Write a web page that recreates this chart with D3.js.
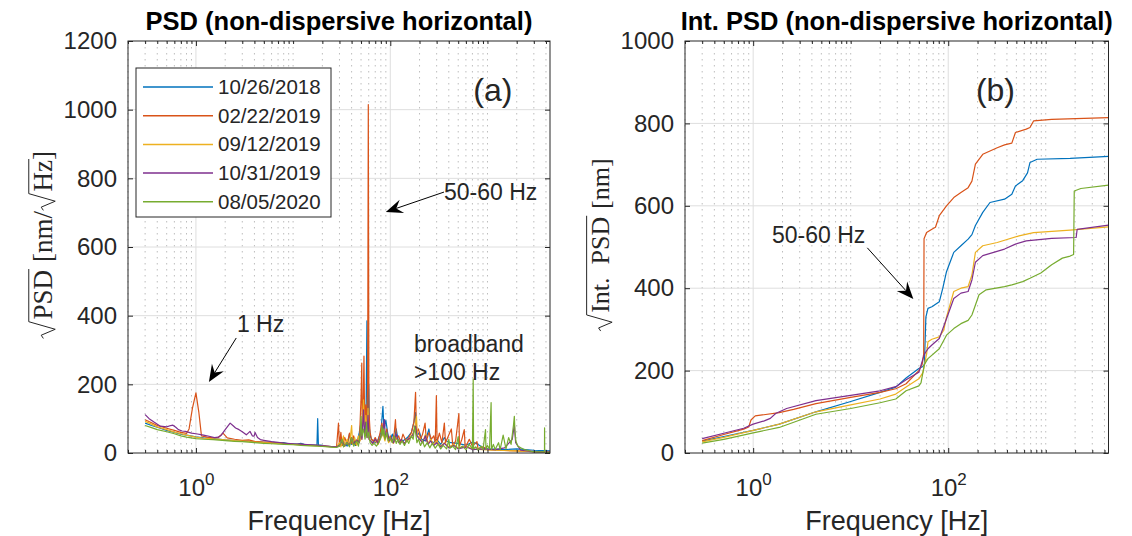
<!DOCTYPE html>
<html lang="en">

<head>
  <meta charset="UTF-8">
  <title>PSD</title>
  <style>
    * {
      padding: 0;
      margin: 0;
    }

    html,
    body {
      width: 1132px;
      height: 536px;
      overflow: hidden;
      background: #fff;
    }

    text {
      font-family: "Liberation Sans", Arial, Helvetica, sans-serif;
      fill: #262626;
    }

    .tick text {
      font-size: 24px;
    }

    .serif {
      font-family: "Liberation Serif", "Times New Roman", serif;
      white-space: pre;
    }
  </style>
</head>

<body>
  <script src="https://cdn.jsdelivr.net/npm/d3@7/dist/d3.min.js"></script>
  <script>
    // legend entries and MATLAB default colour order
    const dates = ['10/26/2018', '02/22/2019', '09/12/2019', '10/31/2019', '08/05/2020']
    const colors = ['#0072BD', '#D95319', '#EDB120', '#7E2F8E', '#77AC30']

    const freqDomain = [0.2, 4400]
    const decadeTicks = [1, 100]
    const psdTicks = [0, 200, 400, 600, 800, 1000, 1200]
    const intTicks = [0, 200, 400, 600, 800, 1000]

    // sqrt(PSD) [nm/sqrt(Hz)] as [Hz, value]
    const psd_20181026 = [[0.3, 87], [0.35, 80], [0.43, 72], [0.5, 66], [0.6, 60], [0.7, 55], [0.8, 52], [1, 47], [1.2, 44], [1.5, 42], [2, 38], [2.5, 36], [3, 35], [4, 33], [5, 31], [6, 32], [7, 29], [8, 30], [9, 27], [10, 27], [11, 26], [12, 28], [13, 25], [15, 24], [17, 23], [17.6, 24], [17.9, 100], [18.2, 24], [20, 22], [22, 20], [25, 18], [28, 17], [30, 25], [31, 45], [32, 22], [34, 30], [36, 20], [38, 55], [40, 25], [42, 40], [44, 22], [46, 35], [48, 60], [50, 90], [51, 45], [53, 110], [55, 60], [56.5, 150], [57.5, 385], [58.5, 80], [60, 200], [61, 70], [63, 45], [66, 35], [70, 30], [75, 40], [80, 60], [84, 136], [86, 70], [90, 95], [95, 50], [100, 40], [105, 55], [110, 35], [115, 70], [120, 40], [125, 30], [135, 35], [150, 45], [165, 60], [175, 90], [182, 118], [188, 50], [200, 60], [210, 40], [230, 35], [250, 70], [260, 35], [280, 30], [300, 40], [330, 25], [360, 45], [380, 35], [420, 30], [500, 28], [600, 22], [700, 32], [800, 25], [900, 15], [1000, 12], [1500, 10], [2000, 12], [3000, 8], [4400, 6]]
    const psd_20190222 = [[0.3, 97], [0.35, 88], [0.4, 80], [0.5, 72], [0.6, 66], [0.7, 60], [0.8, 57], [0.85, 70], [0.92, 130], [1.0, 175], [1.07, 120], [1.14, 50], [1.3, 46], [1.5, 44], [1.7, 45], [1.9, 58], [2.1, 44], [2.5, 40], [3, 37], [3.5, 38], [4, 34], [5, 32], [6, 30], [8, 28], [10, 26], [12, 25], [15, 23], [18, 22], [20, 21], [25, 19], [28, 18], [29.3, 87], [30, 20], [31, 60], [32, 22], [34, 45], [36, 25], [38, 58], [40, 28], [42, 50], [44, 25], [46, 40], [48, 30], [50, 160], [50.9, 262], [51.5, 60], [52.5, 120], [53.6, 282], [54.5, 80], [56, 140], [57, 70], [58.5, 200], [59.4, 1015], [60.3, 120], [62, 60], [64, 40], [67, 35], [70, 45], [74, 30], [78, 55], [82, 87], [85, 60], [88, 40], [92, 70], [96, 35], [100, 50], [105, 30], [110, 60], [113, 97], [116, 40], [122, 50], [128, 30], [135, 55], [145, 35], [155, 45], [165, 60], [175, 90], [182, 177], [186, 60], [195, 70], [205, 40], [215, 55], [228, 87], [235, 35], [250, 60], [265, 40], [280, 50], [290, 30], [298, 167], [303, 30], [320, 58], [340, 30], [360, 87], [370, 30], [390, 45], [425, 70], [440, 20], [470, 35], [508, 115], [515, 20], [545, 40], [577, 68], [590, 15], [650, 40], [700, 20], [780, 33], [800, 12], [900, 18], [1000, 10], [1300, 8], [2000, 6], [3000, 4], [4400, 3]]
    const psd_20190912 = [[0.3, 92], [0.35, 84], [0.4, 76], [0.5, 68], [0.6, 61], [0.7, 56], [0.8, 52], [1, 46], [1.2, 43], [1.5, 41], [2, 38], [2.5, 36], [3, 35], [4, 32], [5, 30], [6, 29], [8, 27], [10, 25], [12, 24], [15, 22], [18, 21], [20, 20], [25, 18], [28, 17], [30, 30], [31, 18], [33, 50], [34, 20], [36, 40], [38, 22], [40, 80], [41, 25], [43, 45], [45, 22], [47, 50], [49, 35], [50, 90], [51, 40], [53, 155], [54.5, 60], [56, 110], [57.5, 50], [59, 130], [60.5, 40], [63, 35], [66, 28], [70, 35], [75, 25], [80, 45], [84, 60], [88, 35], [92, 55], [96, 30], [102, 40], [108, 28], [115, 50], [122, 30], [130, 40], [140, 28], [150, 35], [162, 45], [172, 60], [180, 80], [186, 107], [190, 50], [200, 45], [215, 30], [230, 55], [245, 28], [260, 40], [280, 25], [300, 35], [330, 20], [360, 30], [400, 18], [450, 25], [500, 15], [600, 20], [700, 12], [900, 10], [1200, 8], [2000, 6], [3000, 4], [4400, 3]]
    const psd_20191031 = [[0.3, 112], [0.33, 100], [0.37, 90], [0.43, 78], [0.5, 76], [0.55, 80], [0.58, 81], [0.62, 75], [0.66, 68], [0.72, 64], [0.78, 63], [0.9, 58], [1, 56], [1.2, 52], [1.4, 48], [1.55, 45], [1.7, 46], [1.82, 52], [2, 68], [2.15, 80], [2.25, 87], [2.4, 80], [2.56, 73], [2.78, 68], [3, 62], [3.3, 53], [3.45, 58], [3.6, 63], [3.8, 50], [3.97, 49], [4.06, 60], [4.3, 45], [4.6, 39], [5, 37], [6, 33], [7, 31], [8, 29], [10, 27], [12, 26], [15, 24], [18, 22], [20, 21], [25, 19], [28, 18], [30, 22], [32, 35], [34, 20], [36, 30], [38, 22], [40, 45], [42, 25], [45, 38], [48, 30], [50, 80], [51, 40], [53, 126], [54.5, 50], [56, 90], [57.5, 45], [59, 110], [60.5, 40], [63, 35], [66, 28], [70, 40], [75, 28], [80, 50], [84, 70], [87, 97], [89, 45], [93, 60], [97, 35], [102, 45], [108, 30], [115, 55], [122, 30], [130, 40], [140, 28], [150, 38], [162, 45], [172, 55], [182, 78], [188, 50], [200, 40], [215, 30], [230, 50], [245, 25], [260, 35], [280, 22], [300, 30], [330, 18], [360, 28], [400, 15], [450, 22], [500, 12], [600, 18], [700, 10], [900, 12], [1200, 10], [1500, 15], [1800, 40], [1890, 82], [1950, 30], [2200, 8], [3000, 4], [4400, 3]]
    const psd_20200805 = [[0.3, 80], [0.35, 74], [0.4, 68], [0.5, 62], [0.6, 56], [0.7, 50], [0.8, 46], [1, 42], [1.2, 40], [1.5, 39], [2, 36], [2.5, 34], [3, 33], [4, 30], [5, 28], [6, 27], [8, 25], [10, 24], [12, 22], [15, 21], [18, 20], [20, 19], [25, 17], [28, 16], [30, 20], [32, 40], [33, 18], [36, 30], [38, 18], [40, 45], [42, 20], [45, 35], [47, 20], [49, 55], [50, 107], [51, 50], [53, 70], [55, 40], [57, 90], [58, 45], [60, 60], [62, 30], [65, 22], [68, 28], [72, 20], [76, 30], [80, 45], [82, 78], [84, 50], [86, 70], [88, 40], [92, 60], [95, 35], [100, 45], [105, 30], [110, 50], [115, 28], [120, 40], [126, 25], [132, 35], [140, 22], [148, 38], [155, 28], [165, 50], [172, 40], [178, 78], [183, 55], [188, 30], [195, 40], [205, 22], [215, 35], [225, 18], [240, 30], [255, 15], [270, 28], [290, 14], [310, 26], [330, 12], [350, 22], [380, 12], [400, 40], [410, 14], [440, 20], [470, 10], [500, 48], [510, 12], [550, 20], [600, 10], [650, 25], [700, 12], [713, 215], [720, 12], [760, 18], [800, 8], [860, 20], [900, 10], [955, 68], [965, 10], [1000, 22], [1050, 12], [1090, 147], [1100, 10], [1150, 25], [1200, 10], [1300, 30], [1350, 10], [1450, 52], [1550, 12], [1650, 45], [1750, 25], [1850, 80], [1890, 107], [1920, 60], [1960, 35], [2050, 20], [2200, 15], [2400, 10], [2600, 8], [2800, 5], [3000, 4], [3300, 3], [3600, 3], [3860, 3], [3870, 73], [3880, 3], [4100, 2], [4400, 2]]

    // sqrt(integrated PSD) [nm]
    const int_20181026 = [[0.3, 29], [0.5, 40], [1, 55], [1.85, 70], [4.4, 100], [10, 125], [20, 147], [29, 160], [37, 182], [50, 205], [55, 210], [57, 215], [59, 330], [62, 351], [68, 355], [81, 367], [88, 400], [96, 440], [114, 487], [135, 503], [160, 519], [175, 530], [190, 552], [226, 584], [268, 608], [378, 616], [449, 628], [489, 648], [580, 661], [650, 680], [689, 705], [817, 713], [1780, 715], [4400, 720]]
    const int_20190222 = [[0.3, 30], [0.5, 45], [0.8, 58], [0.9, 63], [0.95, 80], [1.05, 90], [1.85, 98], [2.6, 106], [4.4, 120], [10, 135], [20, 147], [29, 156], [37, 168], [50, 200], [54, 215], [56, 240], [56.5, 520], [60, 535], [68, 543], [74, 548], [81, 576], [96, 600], [114, 620], [135, 632], [160, 644], [175, 660], [190, 701], [226, 725], [318, 741], [378, 748], [449, 752], [489, 778], [631, 786], [689, 790], [750, 806], [1150, 810], [4400, 814]]
    const int_20190912 = [[0.3, 27], [0.5, 38], [1, 55], [1.85, 70], [4.4, 100], [10, 117], [20, 131], [29, 143], [37, 160], [50, 180], [55, 195], [60, 240], [62, 270], [68, 276], [81, 282], [90, 298], [96, 330], [114, 392], [135, 400], [160, 404], [175, 432], [190, 487], [226, 503], [318, 511], [532, 527], [750, 535], [1780, 541], [4400, 549]]
    const int_20191031 = [[0.3, 35], [0.5, 48], [0.8, 60], [1, 70], [1.3, 78], [1.5, 84], [1.7, 96], [2.2, 108], [4.4, 127], [10, 140], [20, 151], [29, 161], [37, 178], [50, 196], [57, 240], [62, 253], [68, 262], [81, 278], [96, 326], [114, 375], [135, 388], [160, 392], [175, 420], [190, 463], [226, 479], [378, 495], [489, 507], [631, 515], [1150, 521], [2050, 523], [2100, 543], [4400, 553]]
    const int_20200805 = [[0.3, 24], [0.5, 33], [1, 49], [1.85, 62], [4.4, 94], [10, 108], [20, 122], [29, 131], [37, 151], [50, 163], [52.6, 170], [57, 215], [62, 229], [81, 253], [96, 286], [114, 302], [135, 314], [160, 322], [175, 335], [207, 384], [245, 396], [378, 404], [449, 408], [580, 416], [689, 424], [890, 437], [1150, 457], [1480, 473], [1780, 478], [1930, 482], [1960, 636], [2290, 642], [4400, 650]]

    const psdSeries = [psd_20181026, psd_20190222, psd_20190912, psd_20191031, psd_20200805]
    const intSeries = [int_20181026, int_20190222, int_20190912, int_20191031, int_20200805]

    const W = 1132, H = 536
    const svg = d3.select('body').append('svg').attr('width', W).attr('height', H)

    function arrow (g, x1, y1, x2, y2) {
      const len = Math.hypot(x2 - x1, y2 - y1)
      const ux = (x2 - x1) / len, uy = (y2 - y1) / len
      const L = 17, hw = 7, notch = 6
      const bx = x2 - ux * L, by = y2 - uy * L
      const nx = x2 - ux * (L - notch), ny = y2 - uy * (L - notch)
      g.append('line').attr('x1', x1).attr('y1', y1).attr('x2', nx).attr('y2', ny)
        .attr('stroke', '#000').attr('stroke-width', 1)
      g.append('path').attr('fill', '#000')
        .attr('d', `M${x2},${y2} L${bx - uy * hw},${by + ux * hw} L${nx},${ny} L${bx + uy * hw},${by - ux * hw} Z`)
    }

    // LaTeX-like label with square-root bars, drawn along +x then rotated
    function rootLabel (cx, cy, parts, fs) {
      const outer = svg.append('g')
      const g = outer.append('g')
      let x = 0
      parts.forEach(p => {
        if (p.gap) { x += p.gap * fs; return }
        if (p.root) x += fs * 0.72
        const t = g.append('text').attr('class', 'serif').attr('x', x).attr('y', 0)
          .style('font-size', fs + 'px').text(p.t)
        const w = t.node().getComputedTextLength()
        if (p.root) {
          const top = -fs * 0.86
          g.append('path').attr('fill', 'none').attr('stroke', '#262626').attr('stroke-width', 1)
            .attr('d', `M${x - fs * 0.7},${-fs * 0.32} L${x - fs * 0.58},${-fs * 0.4} L${x - fs * 0.36},${fs * 0.12} L${x - fs * 0.08},${top} L${x + w + 1},${top}`)
        }
        x += w
      })
      g.attr('transform', `translate(${-x / 2},0)`)
      outer.attr('transform', `translate(${cx},${cy}) rotate(-90)`)
    }

    function panel (o) {
      const x = d3.scaleLog().domain(freqDomain).range([o.left, o.right])
      const y = d3.scaleLinear().domain([0, o.yMax]).range([o.bottom, o.top])
      const g = svg.append('g')
      const minor = x.ticks().filter(f => !decadeTicks.some(d => Math.abs(d - f) < 1e-9))

      // grid
      g.append('g').selectAll('line').data(minor).join('line')
        .attr('x1', d => x(d)).attr('x2', d => x(d)).attr('y1', o.top).attr('y2', o.bottom)
        .attr('stroke', '#bdbdbd').attr('stroke-width', 1).attr('stroke-dasharray', '1.5 4.5')
      g.append('g').selectAll('line').data(decadeTicks).join('line')
        .attr('x1', d => x(d)).attr('x2', d => x(d)).attr('y1', o.top).attr('y2', o.bottom)
        .attr('stroke', '#dedede').attr('stroke-width', 1)
      g.append('g').selectAll('line').data(o.yTicks.slice(1, -1)).join('line')
        .attr('x1', o.left).attr('x2', o.right).attr('y1', d => y(d)).attr('y2', d => y(d))
        .attr('stroke', '#dedede').attr('stroke-width', 1)

      // data
      const clipId = 'clip' + o.name
      svg.append('clipPath').attr('id', clipId).append('rect')
        .attr('x', o.left).attr('y', o.top).attr('width', o.right - o.left).attr('height', o.bottom - o.top)
      const line = d3.line().x(d => x(d[0])).y(d => y(d[1]))
      g.append('g').attr('clip-path', `url(#${clipId})`).selectAll('path').data(o.series).join('path')
        .attr('fill', 'none').attr('stroke', (d, i) => colors[i]).attr('stroke-width', o.lw)
        .attr('stroke-linejoin', 'round').attr('d', line)

      // axes, ticks pointing inward
      const ax = g.append('g').attr('color', '#262626')
      const bottom = ax.append('g').attr('transform', `translate(0,${o.bottom})`)
        .call(d3.axisBottom(x).tickValues(decadeTicks).tickSizeInner(-5).tickSizeOuter(0).tickPadding(43))
      bottom.selectAll('.tick text').each(function (d) {
        const t = d3.select(this).text('').attr('dy', null)
        t.append('tspan').text('10')
        t.append('tspan').attr('dy', -11).style('font-size', '17px').text(Math.round(Math.log10(d)))
      })
      ax.append('g').attr('transform', `translate(0,${o.bottom})`)
        .call(d3.axisBottom(x).tickValues(minor).tickSizeInner(-3).tickSizeOuter(0).tickFormat(''))
      ax.append('g').attr('transform', `translate(0,${o.top})`)
        .call(d3.axisTop(x).tickValues(decadeTicks).tickSizeInner(-5).tickSizeOuter(0).tickFormat(''))
      ax.append('g').attr('transform', `translate(0,${o.top})`)
        .call(d3.axisTop(x).tickValues(minor).tickSizeInner(-3).tickSizeOuter(0).tickFormat(''))
      ax.append('g').attr('transform', `translate(${o.left},0)`)
        .call(d3.axisLeft(y).tickValues(o.yTicks).tickFormat(d3.format('d')).tickSizeInner(-5).tickSizeOuter(0).tickPadding(11))
      ax.append('g').attr('transform', `translate(${o.right},0)`)
        .call(d3.axisRight(y).tickValues(o.yTicks).tickSizeInner(-5).tickSizeOuter(0).tickFormat(''))
      ax.selectAll('.domain').remove()
      ax.selectAll('g').attr('font-size', null).attr('font-family', null)
      ax.append('rect').attr('x', o.left).attr('y', o.top).attr('width', o.right - o.left).attr('height', o.bottom - o.top)
        .attr('fill', 'none').attr('stroke', '#262626').attr('stroke-width', 1)

      // titles
      svg.append('text').attr('x', (o.left + o.right) / 2).attr('y', 30).attr('text-anchor', 'middle')
        .style('font-size', '25.5px').style('font-weight', 'bold').style('fill', '#000').text(o.title)
      svg.append('text').attr('x', (o.left + o.right) / 2).attr('y', 530).attr('text-anchor', 'middle')
        .style('font-size', '27px').text('Frequency [Hz]')
      return { x, y, g }
    }

    const a = panel({
      name: 'a', left: 128, right: 550, top: 41, bottom: 453, yMax: 1200, yTicks: psdTicks,
      series: psdSeries, lw: 1.2, title: 'PSD (non-dispersive horizontal)'
    })
    const b = panel({
      name: 'b', left: 685, right: 1108.5, top: 41, bottom: 453, yMax: 1000, yTicks: intTicks,
      series: intSeries, lw: 1.2, title: 'Int. PSD (non-dispersive horizontal)'
    })

    rootLabel(52, 245, [{ t: 'PSD', root: true }, { gap: 0.3 }, { t: '[nm/' }, { t: 'Hz', root: true }, { t: ']' }], 27)
    rootLabel(609, 245, [{ t: 'Int.  PSD', root: true }, { gap: 0.3 }, { t: '[nm]' }], 26)

    // legend
    const leg = svg.append('g').attr('transform', 'translate(136,68)')
    leg.append('rect').attr('width', 195).attr('height', 149).attr('fill', '#fff')
      .attr('stroke', '#262626').attr('stroke-width', 1)
    dates.forEach((d, i) => {
      const yy = 19 + i * 28.7
      leg.append('line').attr('x1', 7).attr('x2', 77).attr('y1', yy).attr('y2', yy)
        .attr('stroke', colors[i]).attr('stroke-width', 1.5)
      leg.append('text').attr('x', 82).attr('y', yy + 7).style('font-size', '20.5px').text(d)
    })

    // annotations, placed in data coordinates
    const note = (p, f, v, txt, size, anchor) => svg.append('text')
      .attr('x', p.x(f)).attr('y', p.y(v)).attr('text-anchor', anchor || 'start')
      .style('font-size', size + 'px').text(txt)

    note(a, 1137, 1025, '(a)', 32, 'middle')
    note(a, 357, 737, '50-60 Hz', 23)
    arrow(svg, a.x(357), a.y(760), a.x(90), a.y(702))
    note(a, 2.64, 352, '1 Hz', 23)
    arrow(svg, a.x(2.6), a.y(335), a.x(1.36), a.y(207))
    note(a, 175, 294, 'broadband', 23)
    note(a, 175, 213, '>100 Hz', 23)

    note(b, 305, 854, '(b)', 32, 'middle')
    note(b, 1.56, 510, '50-60 Hz', 23)
    arrow(svg, b.x(14.8), b.y(498), b.x(43.9), b.y(374))
  </script>
</body>

</html>
